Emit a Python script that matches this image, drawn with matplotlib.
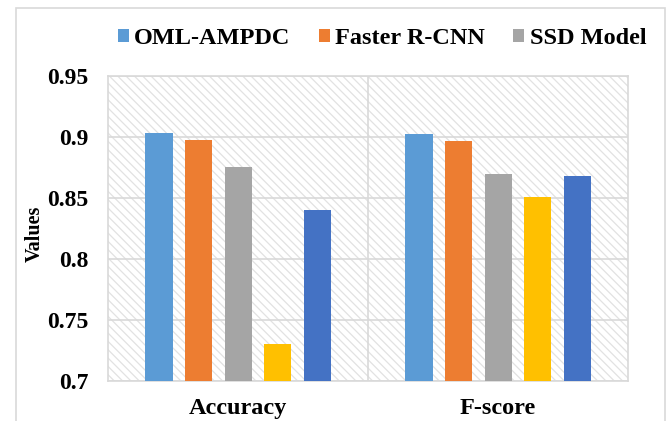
import matplotlib
matplotlib.use("Agg")
import matplotlib.pyplot as plt
from matplotlib.patches import Rectangle
import numpy as np

plt.rcParams['font.family'] = ['Liberation Serif', 'DejaVu Serif']
plt.rcParams['font.weight'] = 'bold'
plt.rcParams['hatch.linewidth'] = 0.9

# data
categories = ["Accuracy", "F-score"]
series_names = ["OML-AMPDC", "Faster R-CNN", "SSD Model", "series 4", "series 5"]
oml_ampdc = [0.903, 0.9025]
faster_rcnn = [0.8975, 0.897]
ssd_model = [0.875, 0.870]
series_4 = [0.730, 0.851]
series_5 = [0.840, 0.868]
yticks = [0.7, 0.75, 0.8, 0.85, 0.9, 0.95]
ytick_labels = ["0.7", "0.75", "0.8", "0.85", "0.9", "0.95"]

colors = ["#5B9BD5", "#ED7D31", "#A5A5A5", "#FFC000", "#4472C4"]
grid_col = "#d9d9d9"

fig = plt.figure(figsize=(6.71, 4.21), dpi=100)
ax = fig.add_axes([0.161, 0.095, 0.775, 0.7245])

# outer chart border
fig.patches.append(Rectangle((16 / 671, -0.1), (665 - 16) / 671, 1.1 - 8 / 421,
                             transform=fig.transFigure, fill=False,
                             edgecolor=grid_col, linewidth=1.2))

# hatched plot background
ax.add_patch(Rectangle((0, 0), 1, 1, transform=ax.transAxes, facecolor="white",
                       edgecolor="#e2e2e2", hatch="\\\\\\\\", linewidth=0, zorder=0))

x = np.arange(len(categories))
width = 0.104
step = 0.152
all_series = [oml_ampdc, faster_rcnn, ssd_model, series_4, series_5]
bars = []
for i, vals in enumerate(all_series):
    b = ax.bar(x + (i - 2) * step, vals, width, color=colors[i], zorder=3,
               label=series_names[i])
    bars.append(b)

ax.set_ylim(0.7, 0.95)
ax.set_xlim(-0.5, 1.5)
ax.set_yticks(yticks)
ax.set_yticklabels(ytick_labels, fontsize=17, fontweight='bold')
ax.set_xticks(x)
ax.set_xticklabels(categories, fontsize=17.5, fontweight='bold')
ax.tick_params(axis='both', length=0)
ax.tick_params(axis='y', pad=14)
ax.tick_params(axis='x', pad=12.5)

ax.grid(axis='y', color=grid_col, linewidth=1.2, zorder=1)
ax.set_axisbelow(True)
ax.axvline(0.5, color=grid_col, linewidth=1.2, zorder=1)
for s in ax.spines.values():
    s.set_color(grid_col)
    s.set_linewidth(1.2)

fig.text(35 / 671, 1 - 234 / 421, "Values", rotation=90, fontsize=14.5,
         fontweight='bold', ha='center', va='center')

fig.legend(handles=bars[:3], loc='center', bbox_to_anchor=(382 / 671, 1 - 39 / 421),
           ncol=3, frameon=False, prop={'size': 17.5, 'weight': 'bold'},
           handlelength=0.46, handleheight=0.46, handletextpad=0.22,
           columnspacing=1.15, borderpad=0)

fig.savefig("out.png", dpi=100)
